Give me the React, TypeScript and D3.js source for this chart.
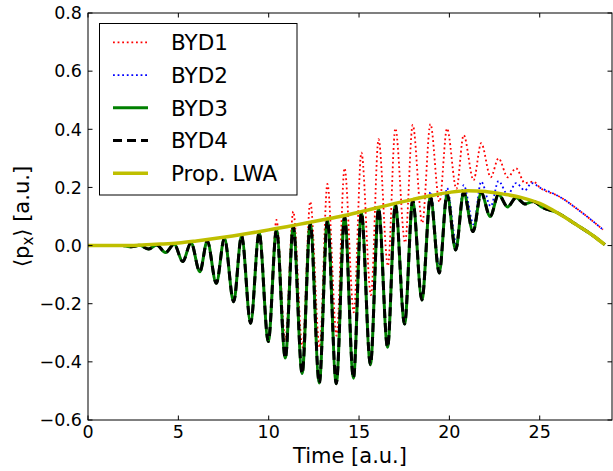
import React from 'react';
import * as d3 from 'd3';

const W = 613;
const H = 471;

// Prop. LWA (smooth)
const lwaTime = [0, 2, 3, 4, 5, 6, 7, 8, 9, 10, 11, 12, 13, 14, 15, 16, 17, 18, 19, 20, 21, 22, 23, 24, 25, 26, 27, 28, 28.6];
const lwaValue = [0, 0, 0.002, 0.005, 0.009, 0.016, 0.024, 0.033, 0.043, 0.054, 0.065, 0.077, 0.089, 0.101, 0.115, 0.13, 0.145, 0.159, 0.172, 0.183, 0.189, 0.186, 0.177, 0.165, 0.145, 0.112, 0.073, 0.032, 0.003];

// BYD3 extrema
const byd3Time = [0, 1.9, 2.4, 2.87, 3.35, 3.8, 4.29, 4.77, 5.24, 5.7, 6.19, 6.6, 7.1, 7.55, 8.06, 8.5, 9.0, 9.47, 9.98, 10.43, 10.92, 11.36, 11.85, 12.3, 12.8, 13.25, 13.74, 14.2, 14.69, 15.13, 15.63, 16.08, 16.58, 17.01, 17.52, 17.97, 18.48, 18.95, 19.44, 19.87, 20.35, 20.79, 21.31, 21.76, 22.26, 22.72, 23.22, 23.69, 24.18, 24.65, 25.1, 26, 27, 28, 28.6];
const byd3Value = [0, 0, -0.004, 0.001, -0.012, 0.002, -0.024, 0.005, -0.055, 0.01, -0.09, 0.016, -0.13, 0.025, -0.193, 0.034, -0.267, 0.044, -0.33, 0.055, -0.387, 0.065, -0.44, 0.077, -0.473, 0.088, -0.475, 0.1, -0.456, 0.113, -0.41, 0.127, -0.35, 0.141, -0.27, 0.155, -0.187, 0.167, -0.094, 0.177, -0.015, 0.183, 0.048, 0.182, 0.1, 0.176, 0.133, 0.165, 0.143, 0.152, 0.133, 0.112, 0.073, 0.032, 0.003];

// BYD4 coincides with BYD3
const byd4Time = byd3Time;
const byd4Value = byd3Value;

// BYD1 departs from BYD3 after t ~ 9
const byd1Split = 9.2;
const byd1TailTime = [9.47, 9.98, 10.43, 10.92, 11.36, 11.87, 12.3, 12.82, 13.25, 13.76, 14.2, 14.71, 15.13, 15.66, 16.08, 16.6, 17.01, 17.55, 17.97, 18.5, 18.95, 19.45, 19.87, 20.39, 20.79, 21.34, 21.76, 22.29, 22.72, 23.23, 23.69, 24.18, 24.65, 25.0, 26.1, 27.2, 28.5];
const byd1TailValue = [0.052, -0.32, 0.088, -0.325, 0.117, -0.35, 0.151, -0.35, 0.212, -0.31, 0.266, -0.23, 0.32, -0.17, 0.366, -0.07, 0.403, 0.01, 0.415, 0.078, 0.418, 0.15, 0.403, 0.195, 0.38, 0.225, 0.352, 0.235, 0.3, 0.235, 0.266, 0.215, 0.22, 0.2, 0.168, 0.12, 0.055];

// BYD2 departs from BYD3 after t ~ 18.5
const byd2Split = 18.7;
const byd2TailTime = [18.95, 19.45, 19.87, 20.39, 20.79, 21.34, 21.76, 22.29, 22.72, 23.23, 23.69, 24.18, 24.55, 25.0, 26.1, 27.2, 28.5];
const byd2TailValue = [0.185, -0.078, 0.198, 0.005, 0.208, 0.073, 0.22, 0.135, 0.222, 0.175, 0.215, 0.19, 0.215, 0.2, 0.168, 0.12, 0.055];

const xTicks = [0, 5, 10, 15, 20, 25];
const yTicks = [-0.6, -0.4, -0.2, 0, 0.2, 0.4, 0.6, 0.8];
const legendLabels = ['BYD1', 'BYD2', 'BYD3', 'BYD4', 'Prop. LWA'];

type P = [number, number];
const zip = (t: number[], v: number[]): P[] => t.map((d, i) => [d, v[i]] as P);

export default function App() {
  const left = 88, right = 612, top = 13, bottom = 420;
  const x = d3.scaleLinear().domain([0, 29]).range([left, right]);
  const y = d3.scaleLinear().domain([-0.6, 0.8]).range([bottom, top]);
  const line = d3.line<P>().x(d => x(d[0])).y(d => y(d[1])).curve(d3.curveMonotoneX);

  const byd3 = zip(byd3Time, byd3Value);
  const byd4 = zip(byd4Time, byd4Value);
  const byd1 = byd3.filter(d => d[0] < byd1Split).concat(zip(byd1TailTime, byd1TailValue));
  const byd2 = byd3.filter(d => d[0] < byd2Split).concat(zip(byd2TailTime, byd2TailValue));
  const lwa = zip(lwaTime, lwaValue);

  const styles = [
    { stroke: '#ff0000', w: 1.8, dash: '1.8,2.8' },
    { stroke: '#0000ff', w: 1.8, dash: '1.8,2.8' },
    { stroke: '#008000', w: 3, dash: undefined },
    { stroke: '#000000', w: 3, dash: '9,5' },
    { stroke: '#bfbf00', w: 3.5, dash: undefined },
  ];
  const series = [byd1, byd2, byd3, byd4, lwa];
  const fmt = (v: number) => v.toFixed(1).replace('-', '\u2212');
  const tl = 4.5;
  const font = 'DejaVu Sans, sans-serif';

  return (
    <svg width={W} height={H} style={{ position: 'absolute', left: 0, top: 0, background: '#fff' }} fontFamily={font}>
      <defs>
        <clipPath id="plot">
          <rect x={left} y={top} width={right - left} height={bottom - top} />
        </clipPath>
      </defs>
      <rect x={0} y={0} width={W} height={H} fill="#fff" />
      <g clipPath="url(#plot)">
        {series.map((s, i) => (
          <path key={i} d={line(s) || ''} fill="none" stroke={styles[i].stroke} strokeWidth={styles[i].w}
            strokeDasharray={styles[i].dash} strokeLinejoin="round" />
        ))}
      </g>
      {xTicks.map(t => (
        <g key={'x' + t}>
          <line x1={x(t)} x2={x(t)} y1={bottom} y2={bottom - tl} stroke="#000" strokeWidth={1} />
          <line x1={x(t)} x2={x(t)} y1={top} y2={top + tl} stroke="#000" strokeWidth={1} />
          <text x={x(t)} y={438} fontSize={17.5} textAnchor="middle">{String(t)}</text>
        </g>
      ))}
      {yTicks.map(t => (
        <g key={'y' + t}>
          <line x1={left} x2={left + tl} y1={y(t)} y2={y(t)} stroke="#000" strokeWidth={1} />
          <line x1={right} x2={right - tl} y1={y(t)} y2={y(t)} stroke="#000" strokeWidth={1} />
          <text x={82} y={y(t)} dy="0.36em" fontSize={17.5} textAnchor="end">{fmt(t)}</text>
        </g>
      ))}
      <rect x={left} y={top} width={right - left} height={bottom - top} fill="none" stroke="#000" strokeWidth={1} />
      <text x={(left + right) / 2} y={463} fontSize={21} textAnchor="middle">Time [a.u.]</text>
      <text transform={`translate(29,${(top + bottom) / 2}) rotate(-90)`} fontSize={21} textAnchor="middle">
        {'\u27E8p'}<tspan fontSize={15} dy={4}>x</tspan><tspan dy={-4}>{'\u27E9 [a.u.]'}</tspan>
      </text>
      <rect x={99.5} y={23.5} width={197.5} height={171.5} fill="#fff" stroke="#000" strokeWidth={1} />
      {legendLabels.map((lab, i) => {
        const ly = 42.3 + i * 32.75;
        return (
          <g key={lab}>
            <line x1={113} x2={148} y1={ly} y2={ly} stroke={styles[i].stroke} strokeWidth={styles[i].w}
              strokeDasharray={styles[i].dash} />
            <text x={171} y={ly} dy="0.36em" fontSize={21.5}>{lab}</text>
          </g>
        );
      })}
    </svg>
  );
}
